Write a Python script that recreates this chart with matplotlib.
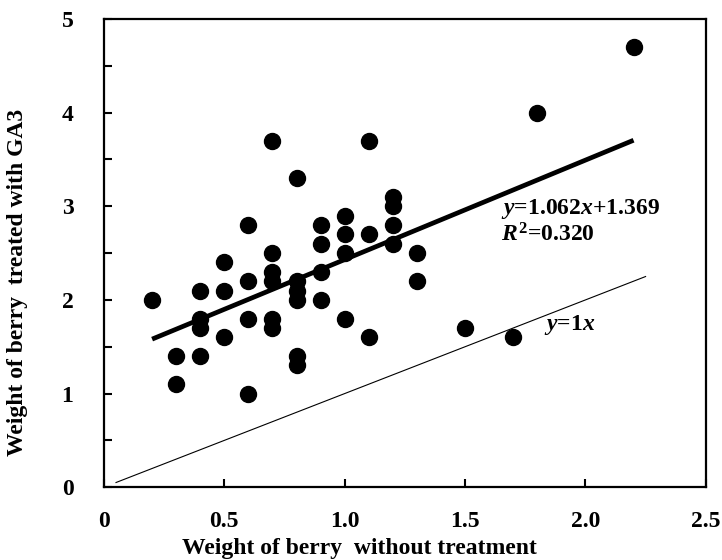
import numpy as np
from matplotlib import pyplot as plt
from matplotlib.ticker import MultipleLocator

plt.rcParams['xtick.direction'] = 'in'
plt.rcParams['ytick.direction'] = 'in'
plt.rcParams['font.family'] = ['Liberation Serif', 'DejaVu Serif']
plt.rcParams['font.weight'] = 'bold'
plt.rcParams['mathtext.fontset'] = 'custom'
plt.rcParams['mathtext.rm'] = 'Liberation Serif:bold'
plt.rcParams['mathtext.bf'] = 'Liberation Serif:bold'
plt.rcParams['mathtext.it'] = 'Liberation Serif:italic:bold'

# weight of berry without treatment (x) / treated with GA3 (y)
x_vals = [0.2,
          0.3, 0.3,
          0.4, 0.4, 0.4, 0.4,
          0.5, 0.5, 0.5,
          0.6, 0.6, 0.6, 0.6,
          0.7, 0.7, 0.7, 0.7, 0.7, 0.7,
          0.8, 0.8, 0.8, 0.8, 0.8, 0.8,
          0.9, 0.9, 0.9, 0.9,
          1.0, 1.0, 1.0, 1.0,
          1.1, 1.1, 1.1,
          1.2, 1.2, 1.2, 1.2,
          1.3, 1.3,
          1.5, 1.7, 1.8, 2.2]
y_vals = [2.0,
          1.4, 1.1,
          2.1, 1.8, 1.7, 1.4,
          2.4, 2.1, 1.6,
          2.8, 2.2, 1.8, 1.0,
          3.7, 2.5, 2.3, 2.2, 1.8, 1.7,
          3.3, 2.2, 2.1, 2.0, 1.4, 1.3,
          2.8, 2.6, 2.3, 2.0,
          2.9, 2.7, 2.5, 1.8,
          3.7, 2.7, 1.6,
          3.1, 3.0, 2.8, 2.6,
          2.5, 2.2,
          1.7, 1.6, 4.0, 4.7]

slope = 1.062
intercept = 1.369
r2 = 0.320
ref_x = [0.05, 2.25]  # extent of the y=1x line

fig = plt.figure(figsize=(7.22, 5.6), dpi=100)
ax = fig.add_axes([0.144, 0.130, 0.8335, 0.836])

ax.plot(x_vals, y_vals, 'o', color='black', markersize=11.5, zorder=3)

fit_x = np.array([min(x_vals), max(x_vals)])
ax.plot(fit_x, slope * fit_x + intercept, '-', color='black', linewidth=3.4,
        solid_capstyle='butt', zorder=2)
ax.plot(ref_x, ref_x, '-', color='black', linewidth=0.8, zorder=2)

ax.text(1.65, 2.97, r'$\mathit{y}$=1.062$\mathit{x}$+1.369', fontsize=17,
        va='center', ha='left')
ax.text(1.65, 2.69, r'$\mathit{R}^{2}$=0.320', fontsize=17,
        va='center', ha='left')
ax.text(1.83, 1.73, r'$\mathit{y}$=1$\mathit{x}$', fontsize=17,
        va='center', ha='left')

ax.set_xlim(0, 2.5)
ax.set_ylim(0, 5)
ax.yaxis.set_major_locator(MultipleLocator(1))
ax.yaxis.set_minor_locator(MultipleLocator(0.5))
ax.set_xticks([0, 0.5, 1.0, 1.5, 2.0, 2.5])
ax.set_xticklabels(['0', '0.5', '1.0', '1.5', '2.0', '2.5'])
ax.tick_params(axis='both', which='major', length=6, width=1.5,
               labelsize=17, top=False, right=False)
ax.tick_params(axis='x', pad=17)
ax.tick_params(axis='y', pad=22)
ax.tick_params(axis='y', which='minor', length=6, width=1.5)
for s in ax.spines.values():
    s.set_linewidth(1.6)

ax.set_xlabel('Weight of berry  without treatment', fontsize=17,
              fontweight='bold', va='center')
ax.xaxis.set_label_coords(0.425, -0.13)
ax.set_ylabel('Weight of berry  treated with GA3', fontsize=17,
              fontweight='bold', va='center')
ax.yaxis.set_label_coords(-0.143, 0.437)

plt.savefig('out.png', dpi=100)
